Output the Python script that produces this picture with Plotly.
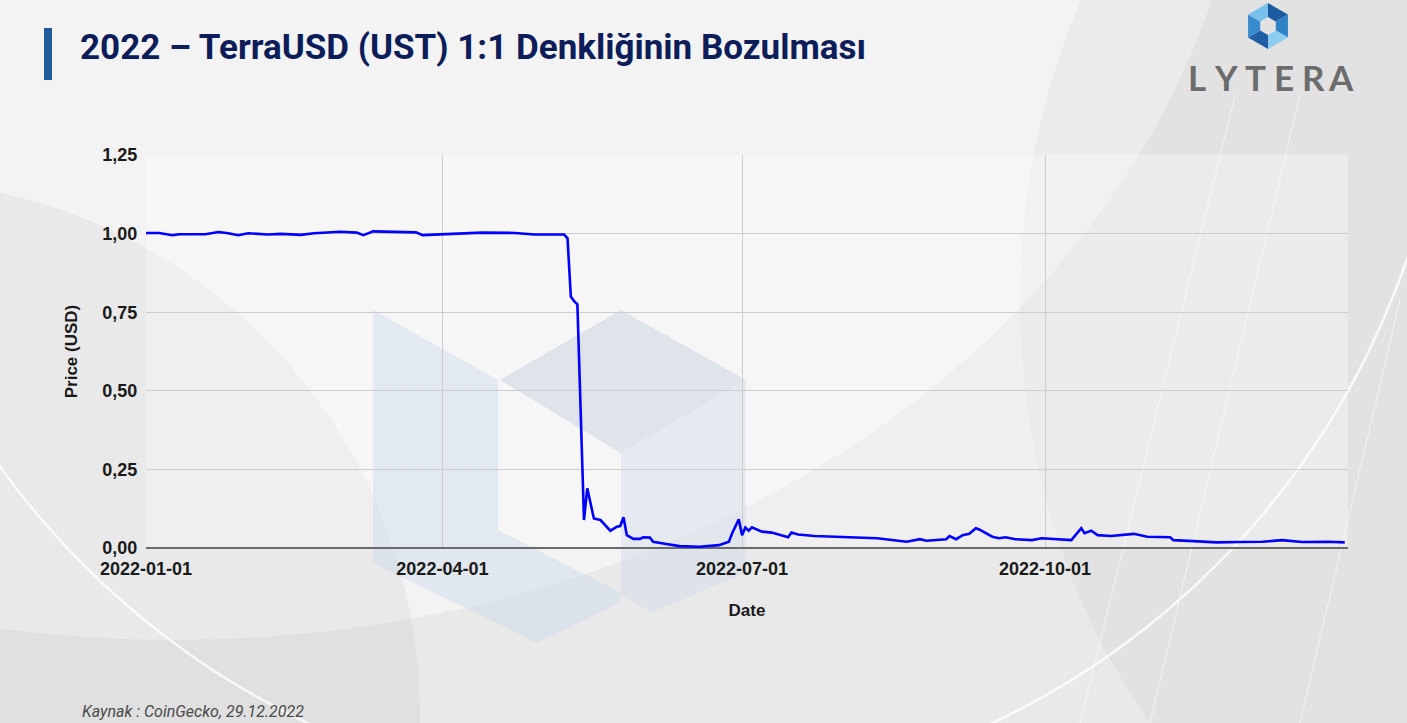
import math
import plotly.graph_objects as go

# ---------------- data ----------------
dates = [
    "2022-01-01", "2022-01-05", "2022-01-09", "2022-01-11", "2022-01-19", "2022-01-23",
    "2022-01-26", "2022-01-29", "2022-02-01", "2022-02-07", "2022-02-11", "2022-02-17",
    "2022-02-21", "2022-03-01", "2022-03-06", "2022-03-08", "2022-03-11", "2022-03-18",
    "2022-03-24", "2022-03-26", "2022-04-01", "2022-04-07", "2022-04-13", "2022-04-23",
    "2022-04-29", "2022-05-05", "2022-05-08", "2022-05-09", "2022-05-10", "2022-05-11",
    "2022-05-12", "2022-05-14", "2022-05-15", "2022-05-17", "2022-05-19", "2022-05-22",
    "2022-05-24", "2022-05-25", "2022-05-26", "2022-05-27", "2022-05-29", "2022-05-31",
    "2022-06-01", "2022-06-03", "2022-06-04", "2022-06-08", "2022-06-12", "2022-06-18",
    "2022-06-24", "2022-06-27", "2022-06-28", "2022-06-30", "2022-07-01", "2022-07-02",
    "2022-07-03", "2022-07-04", "2022-07-07", "2022-07-10", "2022-07-15", "2022-07-16",
    "2022-07-18", "2022-07-23", "2022-07-29", "2022-08-05", "2022-08-11", "2022-08-20",
    "2022-08-24", "2022-08-26", "2022-09-01", "2022-09-02", "2022-09-04", "2022-09-06",
    "2022-09-08", "2022-09-10", "2022-09-11", "2022-09-15", "2022-09-17", "2022-09-19",
    "2022-09-22", "2022-09-27", "2022-09-30", "2022-10-09", "2022-10-12", "2022-10-13",
    "2022-10-15", "2022-10-17", "2022-10-21", "2022-10-28", "2022-11-01", "2022-11-08",
    "2022-11-09", "2022-11-15", "2022-11-22", "2022-11-29", "2022-12-06", "2022-12-12",
    "2022-12-16", "2022-12-18", "2022-12-26", "2022-12-31",
]
prices = [
    1.002, 1.002, 0.995, 0.998, 0.998, 1.005,
    1.001, 0.995, 1.001, 0.997, 0.999, 0.996,
    1.001, 1.006, 1.003, 0.995, 1.007, 1.006,
    1.004, 0.995, 0.997, 0.999, 1.003, 1.002,
    0.997, 0.997, 0.997, 0.985, 0.800, 0.785,
    0.775, 0.089, 0.190, 0.094, 0.089, 0.055,
    0.068, 0.070, 0.098, 0.041, 0.029, 0.029,
    0.034, 0.033, 0.020, 0.013, 0.006, 0.004,
    0.009, 0.020, 0.047, 0.091, 0.041, 0.065,
    0.055, 0.066, 0.052, 0.049, 0.034, 0.049,
    0.043, 0.038, 0.036, 0.034, 0.031, 0.020,
    0.028, 0.023, 0.028, 0.038, 0.028, 0.041,
    0.045, 0.063, 0.059, 0.036, 0.031, 0.034,
    0.028, 0.025, 0.031, 0.025, 0.063, 0.047,
    0.055, 0.041, 0.038, 0.045, 0.036, 0.034,
    0.025, 0.022, 0.018, 0.019, 0.020, 0.025,
    0.022, 0.019, 0.020, 0.018,
]
x_tick_dates = ["2022-01-01", "2022-04-01", "2022-07-01", "2022-10-01", "2023-01-01"]
x_tick_labels = ["2022-01-01", "2022-04-01", "2022-07-01", "2022-10-01", ""]
y_tick_vals = [0, 0.25, 0.5, 0.75, 1.0, 1.25]

title_text = "2022 – TerraUSD (UST) 1:1 Denkliğinin Bozulması"
source_text = "Kaynak : CoinGecko, 29.12.2022"
brand_letters = ["L", "Y", "T", "E", "R", "A"]

# ---------------- layout geometry (pixels) ----------------
W, H = 1407, 723
PL, PR, PT, PB = 146, 1348, 155, 548


def px(X):
    return (X - PL) / (PR - PL)


def py(Y):
    return (PB - Y) / (PB - PT)


def path(points):
    return "M " + " L ".join(f"{px(a):.5f},{py(b):.5f}" for a, b in points) + " Z"


shapes = []
# background swooshes (soft)
shapes.append(dict(type="circle", xref="paper", yref="paper", layer="below",
                   x0=px(-900), x1=px(1250), y0=py(-1100), y1=py(640),
                   fillcolor="rgba(255,255,255,0.45)", line=dict(width=0)))
shapes.append(dict(type="circle", xref="paper", yref="paper", layer="below",
                   x0=px(-650), x1=px(420), y0=py(180), y1=py(1250),
                   fillcolor="rgba(150,150,150,0.10)", line=dict(width=0)))
shapes.append(dict(type="circle", xref="paper", yref="paper", layer="below",
                   x0=px(1020), x1=px(2100), y0=py(-350), y1=py(950),
                   fillcolor="rgba(150,150,150,0.09)", line=dict(width=0)))
shapes.append(dict(type="circle", xref="paper", yref="paper", layer="below",
                   x0=px(-150), x1=px(1450), y0=py(-800), y1=py(800),
                   fillcolor="rgba(0,0,0,0)", line=dict(color="rgba(255,255,255,0.8)", width=2.5)))
for (a, b, c, d) in [(1235, 95, 1080, 723), (1300, 95, 1150, 723), (1400, 300, 1300, 723)]:
    shapes.append(dict(type="line", xref="paper", yref="paper", layer="below",
                       x0=px(a), y0=py(b), x1=px(c), y1=py(d),
                       line=dict(color="rgba(255,255,255,0.5)", width=1.2)))
# plot area whitening
shapes.append(dict(type="rect", xref="paper", yref="paper", layer="below",
                   x0=0, x1=1, y0=0, y1=1,
                   fillcolor="rgba(255,255,255,0.3)", line=dict(width=0)))
# faded logo watermark
shapes.append(dict(type="path", xref="paper", yref="paper", layer="below",
                   path=path([(373, 310), (498, 380), (498, 530), (621, 593), (621, 602),
                              (537, 643), (373, 563)]),
                   fillcolor="rgba(205,218,232,0.45)", line=dict(width=0)))
shapes.append(dict(type="path", xref="paper", yref="paper", layer="below",
                   path=path([(500, 380), (621, 310), (746, 380), (621, 453)]),
                   fillcolor="rgba(195,207,222,0.45)", line=dict(width=0)))
shapes.append(dict(type="path", xref="paper", yref="paper", layer="below",
                   path=path([(621, 453), (746, 380), (746, 573), (652, 612), (621, 595)]),
                   fillcolor="rgba(208,220,234,0.45)", line=dict(width=0)))
# title bar
shapes.append(dict(type="rect", xref="paper", yref="paper", layer="above",
                   x0=px(44), x1=px(52), y0=py(80), y1=py(28),
                   fillcolor="#1d5c99", line=dict(width=0)))
# brand icon (hexagon of triangles)
cx, cy, R, r = 1268, 26, 23, 9
seg_colors = ["#1b5a9e", "#2f82c6", "#8ccdf0", "#1f5fa6", "#3a8ad0", "#78c0ec"]
for i in range(6):
    a1 = math.radians(90 - 60 * i)
    a2 = math.radians(90 - 60 * (i + 1))
    pts = [(cx + R * math.cos(a1), cy - R * math.sin(a1)),
           (cx + R * math.cos(a2), cy - R * math.sin(a2)),
           (cx + r * math.cos(a2), cy - r * math.sin(a2)),
           (cx + r * math.cos(a1), cy - r * math.sin(a1))]
    shapes.append(dict(type="path", xref="paper", yref="paper", layer="above",
                       path=path(pts), fillcolor=seg_colors[i], line=dict(width=0)))

annotations = [
    dict(text=title_text, xref="paper", yref="paper", x=px(78), y=py(48),
         xanchor="left", yanchor="middle", showarrow=False,
         font=dict(family="Roboto", size=35, color="#0c1d5a", weight="bold")),
    dict(text=source_text, xref="paper", yref="paper", x=px(80), y=py(711),
         xanchor="left", yanchor="middle", showarrow=False,
         font=dict(family="Roboto", size=16, color="#4a4a4a", style="italic")),
]
letter_x = [1197, 1226, 1255, 1284, 1313, 1341]
for ch, lx in zip(brand_letters, letter_x):
    annotations.append(dict(text=ch, xref="paper", yref="paper", x=px(lx), y=py(77),
                            xanchor="center", yanchor="middle", showarrow=False,
                            font=dict(family="Lato", size=35, color="#6c6c6c", weight="bold")))

fig = go.Figure()
fig.add_trace(go.Scatter(x=dates, y=prices, mode="lines",
                         line=dict(color="#0000ff", width=2.6), showlegend=False,
                         hovertemplate="%{x|%Y-%m-%d}: %{y:.3f}<extra></extra>"))

axis_font = dict(family="Liberation Sans", size=18, color="#1a1a1a", weight="bold")
fig.update_layout(
    width=W, height=H,
    margin=dict(l=PL, r=W - PR, t=PT, b=H - PB, pad=0),
    paper_bgcolor="#e9e9e9",
    plot_bgcolor="rgba(0,0,0,0)",
    separators=",.",
    shapes=shapes,
    annotations=annotations,
    xaxis=dict(type="date", range=["2022-01-01", "2023-01-01"],
               tickvals=x_tick_dates, ticktext=x_tick_labels,
               showgrid=True, gridcolor="#cdcdcd", gridwidth=1,
               ticks="outside", ticklen=4, tickcolor="rgba(0,0,0,0)",
               tickfont=axis_font, showline=False, zeroline=False,
               title=dict(text="Date", font=dict(axis_font, size=17), standoff=26)),
    yaxis=dict(range=[0, 1.25], tickvals=y_tick_vals, tickformat=".2f",
               showgrid=True, gridcolor="#cdcdcd", gridwidth=1,
               zeroline=True, zerolinecolor="#6a6a6a", zerolinewidth=2,
               ticks="outside", ticklen=4, tickcolor="rgba(0,0,0,0)",
               tickfont=axis_font, showline=False,
               title=dict(text="Price (USD)", font=dict(axis_font, size=17), standoff=20)),
)

fig.write_html("out.html", config={"displayModeBar": False},
               post_script="document.body.style.margin='0';")
